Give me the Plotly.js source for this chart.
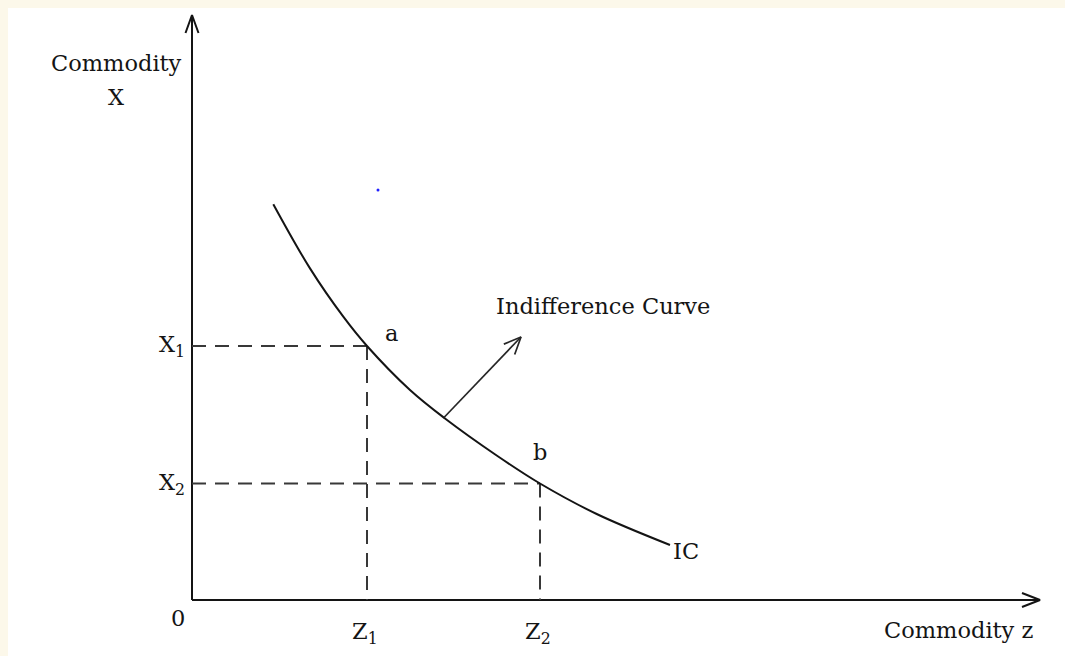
<!DOCTYPE html>
<html>
<head>
<meta charset="utf-8">
<script src="https://cdn.plot.ly/plotly-3.0.1.min.js"></script>
<style>
  html, body { margin: 0; padding: 0; background: #fcf8ea; }
  #chart { width: 1065px; height: 656px; }
</style>
</head>
<body>
<div id="chart"></div>
<script>
// Indifference curve IC in the (Commodity z, Commodity X) plane
const curveZ = [1.626, 2.36, 3.026, 3.5, 4.36, 5.06, 6.094, 6.96, 8.094, 9.56];
const curveX = [7.916, 6.632, 5.666, 5.08, 4.2, 3.63, 2.89, 2.33, 1.72, 1.1];

// Two bundles on the curve: a = (Z1, X1), b = (Z2, X2)
const bundleNames = ['a', 'b'];
const bundleZ = [3.5, 6.96];
const bundleX = [5.08, 2.33];
const zTickLabels = ['Z<sub>1</sub>', 'Z<sub>2</sub>'];
const xTickLabels = ['X<sub>1</sub>', 'X<sub>2</sub>'];

// Axis extents (arrow tips)
const zAxisEnd = 16.96;
const xAxisEnd = 11.7;

// Pointer from the curve toward the "Indifference Curve" label
const pointerFrom = [5.04, 3.65];
const pointerTo = [6.58, 5.26];

// Stray blue dot
const dotZ = [3.72];
const dotX = [8.2];

const FONT = 'DejaVu Serif, serif';
const INK = '#141414';
const DASH = '#383838';
const FS = 22.5;

// Open "V" arrow head at tip, pointing away from `from`
function arrowHead(tip, from, len, half) {
  const dx = tip[0] - from[0], dy = tip[1] - from[1];
  const d = Math.hypot(dx, dy);
  const ux = dx / d, uy = dy / d;
  const px = -uy, py = ux;
  const bx = tip[0] - ux * len, by = tip[1] - uy * len;
  return {
    x: [bx + px * half, tip[0], bx - px * half],
    y: [by + py * half, tip[1], by - py * half]
  };
}

const traces = [];

// axes
const yHead = arrowHead([0, xAxisEnd], [0, 0], 0.36, 0.13);
const zHead = arrowHead([zAxisEnd, 0], [0, 0], 0.36, 0.14);
traces.push({
  x: [0, 0, null, 0, zAxisEnd, null].concat(yHead.x, [null], zHead.x),
  y: [0, xAxisEnd, null, 0, 0, null].concat(yHead.y, [null], zHead.y),
  mode: 'lines', line: {color: INK, width: 2}, hoverinfo: 'skip'
});

// dashed guides from each bundle to both axes
bundleZ.forEach((z, i) => {
  const x = bundleX[i];
  traces.push({
    x: [0, z], y: [x, x], mode: 'lines',
    line: {color: DASH, width: 2, dash: '14px,9px'}, hoverinfo: 'skip'
  });
  traces.push({
    x: [z, z], y: [x, 0], mode: 'lines',
    line: {color: DASH, width: 2, dash: '14px,9px'}, hoverinfo: 'skip'
  });
});

// indifference curve
traces.push({
  x: curveZ, y: curveX, mode: 'lines',
  line: {color: INK, width: 2, shape: 'spline', smoothing: 1}, hoverinfo: 'skip'
});

// pointer arrow
const pHead = arrowHead(pointerTo, pointerFrom, 0.34, 0.15);
traces.push({
  x: [pointerFrom[0], pointerTo[0], null].concat(pHead.x),
  y: [pointerFrom[1], pointerTo[1], null].concat(pHead.y),
  mode: 'lines', line: {color: '#262626', width: 1.7}, hoverinfo: 'skip'
});

// blue dot
traces.push({
  x: dotZ, y: dotX, mode: 'markers',
  marker: {color: '#2020ff', size: 3}, hoverinfo: 'skip'
});

const txt = (x, y, text, xanchor) => ({
  x, y, text, showarrow: false, xref: 'x', yref: 'y',
  xanchor: xanchor || 'center', yanchor: 'middle',
  font: {family: FONT, size: FS, color: INK}
});

const annotations = [
  txt(-1.52, 10.74, 'Commodity'),
  txt(-1.52, 10.06, 'X'),
  txt(-0.28, -0.36, '0'),
  txt(15.32, -0.6, 'Commodity z'),
  txt(8.22, 5.88, 'Indifference Curve'),
  txt(bundleZ[0] + 0.48, bundleX[0] + 0.26, bundleNames[0]),
  txt(bundleZ[1], bundleX[1] + 0.64, bundleNames[1]),
  txt(curveZ[curveZ.length - 1] + 0.02, curveX[curveX.length - 1] - 0.12, 'IC', 'left')
];
bundleZ.forEach((z, i) => annotations.push(txt(z - 0.04, -0.66, zTickLabels[i])));
bundleX.forEach((x, i) => annotations.push(txt(-0.4, x, xTickLabels[i])));

const W = 1065, H = 656;
const layout = {
  width: W, height: H,
  margin: {l: 0, r: 0, t: 0, b: 0},
  paper_bgcolor: '#fcf8ea',
  plot_bgcolor: 'rgba(0,0,0,0)',
  showlegend: false,
  xaxis: {range: [-3.84, 17.46], visible: false, fixedrange: true},
  yaxis: {range: [-1.12, 12], visible: false, fixedrange: true},
  shapes: [{
    type: 'rect', xref: 'paper', yref: 'paper', layer: 'below',
    x0: 8 / W, x1: 1, y0: 0, y1: 1 - 8 / H,
    fillcolor: '#ffffff', line: {width: 0}
  }],
  annotations
};

Plotly.newPlot('chart', traces, layout, {displayModeBar: false, staticPlot: true});
</script>
</body>
</html>
